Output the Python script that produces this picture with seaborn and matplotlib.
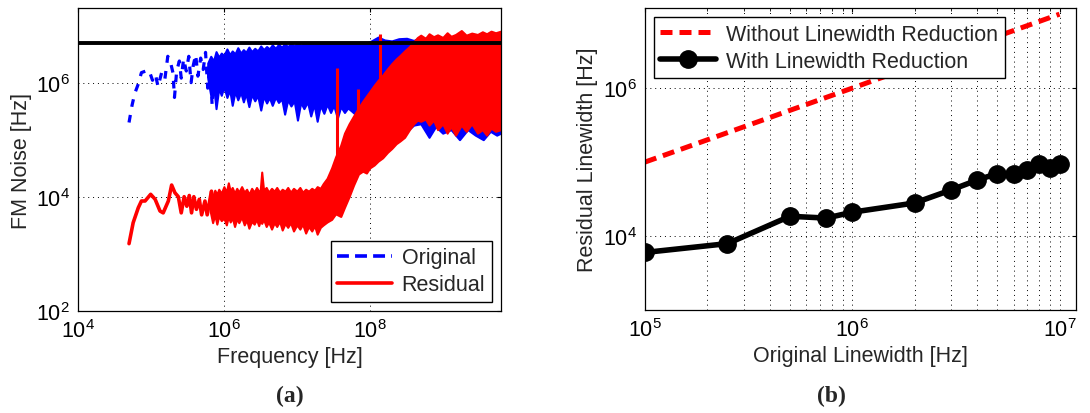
import matplotlib
matplotlib.use("Agg")
import matplotlib.pyplot as plt
import matplotlib.ticker as mticker
import seaborn as sns

# ---------------- Panel (a): FM noise spectra ----------------
# Resolved low-frequency bins of the original (free-running) FM noise
orig_low_freq = [5.0e4, 5.5e4, 6.0e4, 6.6e4, 7.4e4, 8.5e4, 9.4e4, 1.05e5, 1.15e5, 1.25e5,
                 1.4e5, 1.55e5, 1.7e5, 1.85e5, 2.0e5, 2.1e5, 2.25e5, 2.45e5, 2.6e5, 2.8e5,
                 3.05e5, 3.3e5, 3.55e5, 3.8e5, 4.1e5, 4.4e5, 4.8e5, 5.2e5, 5.6e5, 6.0e5,
                 6.4e5, 6.9e5, 7.4e5]
orig_low_val = [2.0e5, 4.0e5, 6.5e5, 9.0e5, 1.5e6, 1.6e6, 1.65e6, 1.1e6, 1.4e6, 8.5e5,
                1.5e6, 1.15e6, 2.9e6, 2.3e6, 1.5e6, 5.5e5, 1.6e6, 2.4e6, 1.2e6, 2.6e6,
                1.6e6, 2.9e6, 1.0e6, 2.0e6, 3.1e6, 1.3e6, 2.7e6, 1.7e6, 3.4e6, 8.0e5,
                2.2e6, 4.0e5, 1.6e6]

# Envelope of the dense part of the original spectrum
orig_band_freq = [6.0e5, 6.6e5, 7.2e5, 7.8e5, 8.5e5, 9.2e5, 1.0e6, 1.1e6, 1.2e6, 1.3e6,
                  1.42e6, 1.55e6, 1.7e6, 1.85e6, 2.0e6, 2.2e6, 2.4e6, 2.65e6, 2.9e6, 3.2e6,
                  3.5e6, 3.85e6, 4.2e6, 4.6e6, 5.1e6, 5.6e6, 6.2e6, 6.8e6, 7.5e6, 8.3e6,
                  9.2e6, 1.02e7, 1.13e7, 1.25e7, 1.4e7, 1.55e7, 1.72e7, 1.9e7, 2.1e7, 2.35e7,
                  2.6e7, 2.9e7, 3.2e7, 3.6e7, 4.0e7, 4.5e7, 5.0e7, 5.6e7, 6.3e7, 7.0e7,
                  8.0e7, 9.0e7, 1.0e8, 1.3e8, 1.6e8, 2.0e8, 2.5e8, 3.2e8, 4.0e8, 5.0e8,
                  6.5e8, 8.0e8, 1.0e9, 1.3e9, 1.7e9, 2.2e9, 2.8e9, 3.6e9, 4.5e9, 5.5e9,
                  6.25e9]
orig_band_upper = [2.2e6, 2.9e6, 2.4e6, 3.5e6, 2.8e6, 3.3e6, 3.0e6, 3.9e6, 3.1e6, 3.6e6,
                   3.2e6, 4.1e6, 3.3e6, 3.8e6, 3.4e6, 4.2e6, 3.5e6, 4.0e6, 3.6e6, 4.4e6,
                   3.8e6, 4.3e6, 3.9e6, 4.6e6, 4.0e6, 4.7e6, 4.2e6, 4.8e6, 4.3e6, 4.8e6,
                   4.4e6, 4.9e6, 4.5e6, 4.8e6, 4.6e6, 4.9e6, 4.6e6, 4.9e6, 4.7e6, 4.9e6,
                   4.7e6, 4.9e6, 4.8e6, 4.9e6, 4.8e6, 4.9e6, 4.8e6, 4.9e6, 4.8e6, 4.9e6,
                   5.0e6, 5.0e6, 5.2e6, 6.3e6, 5.6e6, 5.4e6, 5.9e6, 6.0e6, 5.5e6, 6.2e6,
                   5.8e6, 6.0e6, 6.2e6, 5.8e6, 6.3e6, 6.0e6, 6.2e6, 6.4e6, 6.0e6, 6.2e6,
                   6.0e6]
orig_band_lower = [1.2e6, 6.0e5, 9.0e5, 3.5e5, 8.0e5, 6.0e5, 8.5e5, 5.5e5, 7.5e5, 4.0e5,
                   7.0e5, 5.0e5, 6.8e5, 4.6e5, 6.5e5, 3.8e5, 6.2e5, 4.8e5, 6.0e5, 3.3e5,
                   5.8e5, 4.4e5, 5.5e5, 4.0e5, 5.6e5, 4.5e5, 5.2e5, 2.8e5, 5.0e5, 3.9e5,
                   4.8e5, 2.2e5, 4.5e5, 3.5e5, 4.6e5, 2.6e5, 4.2e5, 2.1e5, 4.0e5, 2.9e5,
                   4.2e5, 3.0e5, 4.0e5, 2.4e5, 3.8e5, 3.0e5, 3.6e5, 3.2e5, 2.8e5, 3.0e5,
                   2.9e5, 3.0e5, 2.6e5, 2.5e5, 2.0e5, 1.8e5, 1.6e5, 1.4e5, 1.8e5, 1.9e5,
                   1.1e5, 1.7e5, 1.3e5, 1.5e5, 1.0e5, 1.5e5, 1.2e5, 1.0e5, 1.4e5, 1.2e5,
                   1.3e5]

# Resolved low-frequency bins of the residual FM noise
resid_low_freq = [5.0e4, 5.7e4, 6.7e4, 7.4e4, 8.3e4, 9.9e4, 1.14e5, 1.33e5, 1.47e5,
                  1.73e5, 1.92e5, 2.13e5, 2.37e5, 2.6e5, 2.85e5, 3.1e5, 3.35e5,
                  3.6e5, 3.87e5, 4.2e5, 4.6e5, 4.95e5, 5.5e5, 5.9e5, 6.75e5, 7.5e5]
resid_low_val = [1.5e3, 3.5e3, 6.4e3, 8.4e3, 8.4e3, 1.1e4, 9.0e3, 5.6e3, 5.2e3,
                 8.4e3, 1.6e4, 1.17e4, 1.0e4, 5.2e3, 1.0e4, 6.8e3, 1.05e4,
                 5.2e3, 1.0e4, 6.0e3, 9.0e3, 4.8e3, 8.4e3, 4.8e3, 1.25e4, 4.5e3]

# Envelope of the dense part of the residual spectrum
resid_band_freq = [6.5e5, 7.0e5, 7.5e5, 8.0e5, 8.5e5, 9.2e5, 1.0e6, 1.08e6, 1.15e6, 1.22e6,
                   1.3e6, 1.4e6, 1.5e6, 1.6e6, 1.75e6, 1.9e6, 2.05e6, 2.2e6, 2.4e6, 2.6e6,
                   2.8e6, 3.0e6, 3.15e6, 3.3e6, 3.5e6, 3.8e6, 4.1e6, 4.5e6, 4.9e6, 5.3e6,
                   5.8e6, 6.3e6, 6.9e6, 7.5e6, 8.2e6, 9.0e6, 1.0e7, 1.1e7, 1.2e7, 1.32e7,
                   1.45e7, 1.6e7, 1.75e7, 1.9e7, 2.1e7, 2.3e7, 2.6e7, 3.0e7, 3.4e7, 4.0e7,
                   4.5e7, 5.2e7, 6.0e7, 7.0e7, 8.0e7, 9.0e7, 1.0e8, 1.15e8, 1.3e8, 1.5e8,
                   1.75e8, 2.0e8, 2.3e8, 2.6e8, 3.0e8, 3.5e8, 4.0e8, 4.5e8, 5.0e8, 5.8e8,
                   6.5e8, 7.5e8, 8.5e8, 1.0e9, 1.15e9, 1.3e9, 1.5e9, 1.8e9, 2.1e9, 2.5e9,
                   3.0e9, 3.5e9, 4.0e9, 4.6e9, 5.3e9, 6.25e9]
resid_band_upper = [1.25e4, 1.0e4, 1.3e4, 1.1e4, 1.35e4, 1.15e4, 1.5e4, 1.2e4, 1.75e4, 1.25e4,
                    1.45e4, 1.15e4, 1.4e4, 1.2e4, 1.5e4, 1.2e4, 1.35e4, 1.1e4, 1.4e4, 1.2e4,
                    1.45e4, 1.25e4, 1.3e4, 2.7e4, 1.3e4, 1.45e4, 1.2e4, 1.4e4, 1.25e4, 1.45e4,
                    1.2e4, 1.35e4, 1.25e4, 1.45e4, 1.2e4, 1.4e4, 1.25e4, 1.45e4, 1.2e4, 1.35e4,
                    1.25e4, 1.4e4, 1.3e4, 1.5e4, 1.4e4, 1.7e4, 2.1e4, 3.2e4, 5.0e4, 8.0e4,
                    1.3e5, 1.9e5, 2.6e5, 3.6e5, 4.7e5, 5.8e5, 7.0e5, 9.0e5, 1.1e6, 1.35e6,
                    1.75e6, 2.15e6, 2.6e6, 3.0e6, 3.6e6, 4.3e6, 5.2e6, 6.2e6, 6.8e6, 6.0e6,
                    7.2e6, 6.4e6, 6.9e6, 6.2e6, 7.5e6, 6.5e6, 7.0e6, 8.2e6, 6.8e6, 7.4e6,
                    7.0e6, 7.8e6, 7.2e6, 8.0e6, 7.5e6, 8.0e6]
resid_band_lower = [5.5e3, 3.5e3, 4.8e3, 3.3e3, 4.6e3, 3.8e3, 4.2e3, 3.2e3, 4.5e3, 3.6e3,
                    4.3e3, 3.0e3, 4.1e3, 3.5e3, 4.4e3, 3.2e3, 3.9e3, 2.8e3, 3.7e3, 3.3e3,
                    4.0e3, 3.1e3, 3.8e3, 3.4e3, 4.0e3, 3.0e3, 3.6e3, 2.7e3, 3.5e3, 3.0e3,
                    3.7e3, 2.6e3, 3.4e3, 2.9e3, 3.5e3, 2.5e3, 3.2e3, 2.7e3, 3.3e3, 2.3e3,
                    3.0e3, 2.5e3, 3.1e3, 2.2e3, 2.9e3, 3.2e3, 3.6e3, 4.0e3, 5.0e3, 4.5e3,
                    6.5e3, 1.0e4, 1.6e4, 2.5e4, 2.8e4, 2.6e4, 3.2e4, 3.6e4, 4.2e4, 4.8e4,
                    6.0e4, 7.0e4, 8.5e4, 9.5e4, 1.1e5, 1.5e5, 1.9e5, 2.2e5, 2.1e5, 2.3e5,
                    1.8e5, 2.2e5, 1.5e5, 1.9e5, 1.3e5, 1.7e5, 1.2e5, 1.8e5, 1.4e5, 1.9e5,
                    1.3e5, 1.5e5, 1.2e5, 1.6e5, 1.4e5, 1.5e5]

# Narrow spurs left in the residual spectrum
spur_freq = [3.57e7, 6.9e7, 1.4e8]
spur_base = [3.0e4, 3.0e5, 1.0e6]
spur_peak = [1.8e6, 7.8e5, 7.0e6]

limit_level = 5.0e6

# ---------------- Panel (b): linewidth reduction ----------------
orig_linewidth = [1e5, 2.5e5, 5e5, 7.5e5, 1e6, 2e6, 3e6, 4e6, 5e6, 6e6, 7e6, 8e6, 9e6, 1e7]
resid_linewidth = [6.0e3, 7.9e3, 1.85e4, 1.75e4, 2.1e4, 2.8e4, 4.2e4, 5.7e4,
                   7.0e4, 6.9e4, 7.7e4, 9.5e4, 8.4e4, 9.3e4]
no_reduction_x = [1e5, 1e7]
no_reduction_y = [1e5, 1e7]

# ---------------- Styling ----------------
FS = 15.5
sns.set_style("white")
plt.rcParams.update({
    "font.family": ["Liberation Sans", "DejaVu Sans"],
    "mathtext.fontset": "custom",
    "mathtext.rm": "Liberation Sans",
    "mathtext.it": "Liberation Sans:italic",
    "font.size": FS,
    "axes.edgecolor": "black",
    "axes.linewidth": 0.9,
    "xtick.direction": "in",
    "ytick.direction": "in",
    "xtick.color": "black",
    "ytick.color": "black",
    "xtick.labelsize": FS,
    "ytick.labelsize": FS,
    "legend.fontsize": FS,
    "axes.labelsize": FS,
})

BLUE = "#0000ff"
RED = "#ff0000"

fig = plt.figure(figsize=(10.9, 4.14), dpi=100)
ax1 = fig.add_axes([0.0716, 0.2471, 0.3878, 0.7300])
ax2 = fig.add_axes([0.5917, 0.2488, 0.3954, 0.7287])

grid_kw = dict(color="black", linestyle=(0, (1, 4)), linewidth=0.7)

# --- (a) ---
ax1.set_xscale("log")
ax1.set_yscale("log")

ax1.fill_between(orig_band_freq, orig_band_lower, orig_band_upper,
                 color=BLUE, linewidth=1.5, edgecolor=BLUE, zorder=2)
sns.lineplot(x=orig_low_freq, y=orig_low_val, ax=ax1, color=BLUE, linewidth=2.3,
             linestyle=(0, (2.4, 2.6)), sort=False, estimator=None,
             label="Original", zorder=3)

ax1.fill_between(resid_band_freq, resid_band_lower, resid_band_upper,
                 color=RED, linewidth=1.5, edgecolor=RED, zorder=4)
sns.lineplot(x=resid_low_freq, y=resid_low_val, ax=ax1, color=RED, linewidth=2.6,
             sort=False, estimator=None, label="Residual", zorder=5)
ax1.vlines(spur_freq, spur_base, spur_peak, color=RED, linewidth=2.2, zorder=5)

ax1.axhline(limit_level, color="black", linewidth=2.8, zorder=6)

ax1.set_xlim(1e4, 6.25e9)
ax1.set_ylim(1e2, 2e7)
ax1.xaxis.set_major_locator(mticker.FixedLocator([1e4, 1e6, 1e8]))
ax1.yaxis.set_major_locator(mticker.FixedLocator([1e2, 1e4, 1e6]))
ax1.xaxis.set_major_formatter(mticker.LogFormatterSciNotation())
ax1.yaxis.set_major_formatter(mticker.LogFormatterSciNotation())
ax1.xaxis.set_minor_locator(mticker.NullLocator())
ax1.yaxis.set_minor_locator(mticker.NullLocator())
ax1.tick_params(which="major", length=3, width=0.8, top=True, right=True, pad=6)
ax1.grid(True, which="major", **grid_kw)
ax1.set_axisbelow(True)
ax1.set_xlabel("Frequency [Hz]", labelpad=3)
ax1.set_ylabel("FM Noise [Hz]", labelpad=3)
for s in ax1.spines.values():
    s.set_visible(True)
    s.set_zorder(10)

leg1 = ax1.legend(loc="lower right", frameon=True, fancybox=False,
                  edgecolor="black", framealpha=1, handlelength=2.55,
                  borderaxespad=0.42, handletextpad=0.45, borderpad=0.3,
                  labelspacing=0.28)
leg1.get_frame().set_linewidth(1.0)
leg1.set_zorder(20)
# legend sample for the original spectrum uses a longer dash pattern
leg1.get_lines()[0].set_linestyle((0, (3.3, 1.7)))
leg1.get_lines()[0].set_linewidth(2.6)

# --- (b) ---
ax2.set_xscale("log")
ax2.set_yscale("log")
sns.lineplot(x=no_reduction_x, y=no_reduction_y, ax=ax2, color=RED, linewidth=3.6,
             linestyle=(0, (2.4, 1.4)), estimator=None,
             label="Without Linewidth Reduction", zorder=3)
sns.lineplot(x=orig_linewidth, y=resid_linewidth, ax=ax2, color="black",
             linewidth=4.0, marker="o", markersize=12.5, markeredgecolor="black",
             markeredgewidth=1.0, estimator=None, label="With Linewidth Reduction",
             zorder=4)

ax2.set_xlim(1e5, 1.2e7)
ax2.set_ylim(1e3, 1.2e7)
ax2.xaxis.set_major_locator(mticker.FixedLocator([1e5, 1e6, 1e7]))
ax2.xaxis.set_minor_locator(mticker.LogLocator(base=10, subs=range(2, 10)))
ax2.xaxis.set_minor_formatter(mticker.NullFormatter())
ax2.yaxis.set_major_locator(mticker.FixedLocator([1e4, 1e6]))
ax2.yaxis.set_minor_locator(mticker.NullLocator())
ax2.xaxis.set_major_formatter(mticker.LogFormatterSciNotation())
ax2.yaxis.set_major_formatter(mticker.LogFormatterSciNotation())
ax2.tick_params(which="major", length=3, width=0.8, top=True, right=True, pad=6)
ax2.tick_params(which="minor", length=2, width=0.6, top=True)
ax2.grid(True, which="major", **grid_kw)
ax2.grid(True, which="minor", axis="x", **grid_kw)
ax2.set_axisbelow(True)
ax2.set_xlabel("Original Linewidth [Hz]", labelpad=3)
ax2.set_ylabel("Residual Linewidth [Hz]", labelpad=3)
for s in ax2.spines.values():
    s.set_visible(True)
    s.set_zorder(10)

leg2 = ax2.legend(loc="upper left", frameon=True, fancybox=False,
                  edgecolor="black", framealpha=1, handlelength=2.6,
                  borderaxespad=0.42, handletextpad=0.45, borderpad=0.3,
                  labelspacing=0.28)
leg2.get_frame().set_linewidth(1.0)
leg2.set_zorder(20)

# Panel captions
cap_kw = dict(ha="center", va="center", fontsize=17, fontweight="bold",
              family=["Liberation Serif", "DejaVu Serif"])
fig.text(0.2655, 1 - 396.5 / 414, "(a)", **cap_kw)
fig.text(0.7630, 1 - 396.5 / 414, "(b)", **cap_kw)

fig.savefig("out.png", dpi=100)
